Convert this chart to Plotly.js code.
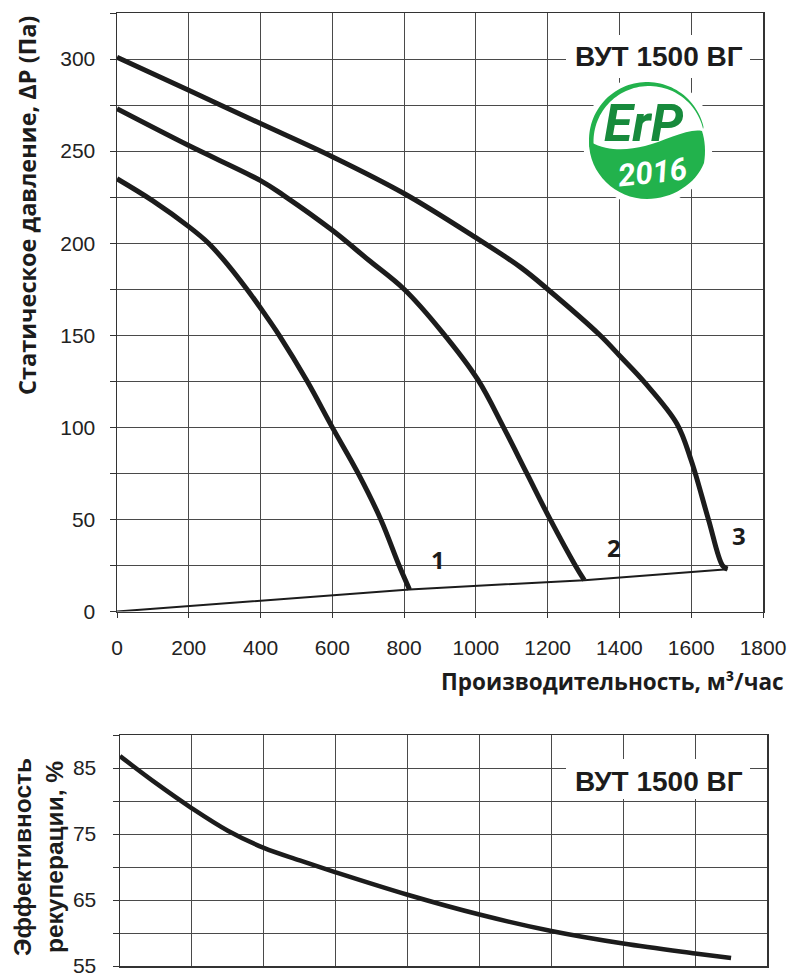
<!DOCTYPE html>
<html>
<head>
<meta charset="utf-8">
<script src="https://cdn.plot.ly/plotly-3.0.1.min.js"></script>
<style>html,body{margin:0;padding:0;background:#fff}</style>
</head>
<body>
<div id="chart" style="width:800px;height:980px"></div>
<script>
// ---------- data ----------
const curve1X = [0, 100, 200, 255, 310, 362, 410, 452, 530, 600, 672, 735, 786, 815];
const curve1Y = [235, 223, 209, 200, 188, 175, 162, 150, 125, 100, 75, 50, 25, 12];

const curve2X = [0, 200, 400, 464, 600, 700, 800, 905, 1005, 1077, 1142, 1207, 1277, 1302];
const curve2Y = [273, 253, 234, 226, 207, 191, 175, 152, 126, 100, 75, 50, 25, 17];

const curve3X = [0, 200, 400, 600, 800, 1000, 1124, 1200, 1346, 1400, 1472, 1560, 1600, 1648, 1687, 1701];
const curve3Y = [301, 283, 265, 247, 227, 203, 187, 175, 150, 139, 124, 102, 82, 50, 25, 23];

const systemX = [0, 815, 1302, 1701];
const systemY = [0, 12, 17, 23];

const effX = [0, 100, 200, 300, 400, 500, 600, 800, 1000, 1200, 1400, 1600, 1700];
const effY = [86.8, 82.7, 78.9, 75.5, 72.9, 71.0, 69.2, 65.8, 62.8, 60.3, 58.4, 56.9, 56.2];

const curveLabels = ['1', '2', '3'];
const modelName = 'ВУТ 1500 ВГ';
const logoTop = 'ErP';
const logoYear = '2016';
const xTitle = 'Производительность, м³/час';
const yTitle = 'Статическое давление, ΔP (Па)';
const yTitle2 = 'Эффективность<br>рекуперации, %';

// ---------- helpers (page pixels -> paper) ----------
const W = 800, H = 980;
const fx = p => p / W, fy = p => 1 - p / H;
function pxPath(s) {
  const t = s.trim().split(/\s+/); const out = []; let i = 0;
  while (i < t.length) {
    if (/^[A-Za-z]$/.test(t[i])) { out.push(t[i]); i++; }
    else { out.push(fx(+t[i]).toFixed(5) + ',' + fy(+t[i + 1]).toFixed(5)); i += 2; }
  }
  return out.join(' ');
}
function arc(cx, cy, r, a0, a1, n) {
  const pts = [];
  for (let i = 0; i <= n; i++) {
    const a = (a0 + (a1 - a0) * i / n) * Math.PI / 180;
    pts.push([cx + r * Math.cos(a), cy - r * Math.sin(a)]);
  }
  return pts;
}
function polyPath(pts) {
  return 'M' + pts.map(p => fx(p[0]).toFixed(5) + ',' + fy(p[1]).toFixed(5)).join('L') + 'Z';
}

const INK = '#1c1c1c';
const GRID = '#4a4a4a';
const GREEN = '#22b24c';
const DKGREEN = '#178a3c';
const numFont = 'Liberation Sans, Arial, sans-serif';
const titleFont = 'Open Sans, Noto Sans, sans-serif';
const narrow = 'Liberation Sans Narrow, Roboto, Liberation Sans, sans-serif';

const curveLine = {color: INK, width: 5, shape: 'spline', smoothing: 1};
const traces = [
  {x: curve1X, y: curve1Y, mode: 'lines', line: curveLine, xaxis: 'x', yaxis: 'y', hoverinfo: 'skip'},
  {x: curve2X, y: curve2Y, mode: 'lines', line: curveLine, xaxis: 'x', yaxis: 'y', hoverinfo: 'skip'},
  {x: curve3X, y: curve3Y, mode: 'lines', line: curveLine, xaxis: 'x', yaxis: 'y', hoverinfo: 'skip'},
  {x: systemX, y: systemY, mode: 'lines', line: {color: INK, width: 2}, xaxis: 'x', yaxis: 'y', hoverinfo: 'skip'},
  {x: effX, y: effY, mode: 'lines', line: {color: INK, width: 4.5, shape: 'spline', smoothing: 1}, xaxis: 'x2', yaxis: 'y2', hoverinfo: 'skip'}
];

const axBase = {
  showgrid: true, gridcolor: GRID, gridwidth: 1, zeroline: false,
  showline: true, mirror: true, linecolor: '#333', linewidth: 1.5,
  ticks: 'outside', tickcolor: '#333', tickwidth: 1, fixedrange: true, automargin: false,
  tickfont: {family: numFont, size: 21, color: '#222'}
};

// crescent & leaf of the logo
const crescent = arc(647, 140, 58, 187, 13, 60).concat(arc(649, 141.5, 55.5, 13, 187, 60));
const leaf = pxPath('M 590 142 C 610 152 628 150 645 146 C 665 141 688 128 702 131 C 705 140 706 152 704 163 C 696 184 672 199 647 199 C 615.5 199 589 173.5 589 142 Z');

const layout = {
  width: W, height: H, margin: {l: 0, r: 0, t: 0, b: 0},
  paper_bgcolor: '#fff', plot_bgcolor: '#fff', showlegend: false,
  xaxis: Object.assign({}, axBase, {
    domain: [fx(117), fx(763)], range: [0, 1800], tick0: 0, dtick: 200, ticklen: 5,
    anchor: 'y', ticklabelstandoff: 12
  }),
  yaxis: Object.assign({}, axBase, {
    domain: [fy(611.5), fy(13)], range: [0, 325], tick0: 0, dtick: 50, ticklen: 6,
    minor: {tick0: 0, dtick: 25, showgrid: true, gridcolor: GRID, gridwidth: 1, ticks: 'outside', ticklen: 6, tickcolor: '#333'},
    anchor: 'x', ticklabelstandoff: 10
  }),
  xaxis2: Object.assign({}, axBase, {
    domain: [fx(120), fx(767)], range: [0, 1800], tick0: 0, dtick: 200,
    showticklabels: false, ticks: '', anchor: 'y2'
  }),
  yaxis2: Object.assign({}, axBase, {
    domain: [fy(966), fy(735)], range: [55, 90], tick0: 55, dtick: 10, ticklen: 6,
    minor: {tick0: 55, dtick: 5, showgrid: true, gridcolor: GRID, gridwidth: 1, ticks: 'outside', ticklen: 6, tickcolor: '#333'},
    anchor: 'x2', ticklabelstandoff: 12
  }),
  shapes: [
    {type: 'rect', xref: 'paper', yref: 'paper', x0: fx(566), x1: fx(750), y0: fy(78), y1: fy(35), fillcolor: '#fff', line: {width: 0}, layer: 'above'},
    {type: 'circle', xref: 'paper', yref: 'paper', x0: fx(583), x1: fx(713), y0: fy(206), y1: fy(76), fillcolor: '#fff', line: {width: 0}, layer: 'above'},
    {type: 'path', xref: 'paper', yref: 'paper', path: polyPath(crescent), fillcolor: GREEN, line: {width: 0}, layer: 'above'},
    {type: 'path', xref: 'paper', yref: 'paper', path: leaf, fillcolor: GREEN, line: {width: 0}, layer: 'above'},
    {type: 'rect', xref: 'paper', yref: 'paper', x0: fx(566), x1: fx(750), y0: fy(799), y1: fy(759), fillcolor: '#fff', line: {width: 0}, layer: 'above'}
  ],
  annotations: [
    {text: modelName, xref: 'paper', yref: 'paper', x: fx(658.7), y: fy(56.7), xanchor: 'center', yanchor: 'middle', showarrow: false,
     font: {family: numFont, size: 28, color: INK, weight: 'bold'}},
    {text: modelName, xref: 'paper', yref: 'paper', x: fx(658.7), y: fy(781.7), xanchor: 'center', yanchor: 'middle', showarrow: false,
     font: {family: numFont, size: 28, color: INK, weight: 'bold'}},
    {text: logoTop, xref: 'paper', yref: 'paper', x: fx(644), y: fy(123), xanchor: 'center', yanchor: 'middle', showarrow: false,
     font: {family: narrow, size: 52, color: DKGREEN, weight: 'bold', style: 'italic'}},
    {text: logoYear, xref: 'paper', yref: 'paper', x: fx(652), y: fy(172), xanchor: 'center', yanchor: 'middle', showarrow: false, textangle: -6,
     font: {family: narrow, size: 31, color: '#fff', weight: 'bold', style: 'italic'}},
    {text: xTitle, xref: 'paper', yref: 'paper', x: fx(786), y: fy(681), xanchor: 'right', yanchor: 'middle', showarrow: false,
     font: {family: titleFont, size: 22.5, color: INK, weight: 'bold'}},
    {text: yTitle, xref: 'paper', yref: 'paper', x: fx(27), y: fy(206), xanchor: 'center', yanchor: 'middle', showarrow: false, textangle: -90,
     font: {family: titleFont, size: 23.5, color: INK, weight: 'bold'}},
    {text: yTitle2, xref: 'paper', yref: 'paper', x: fx(38), y: fy(857), xanchor: 'center', yanchor: 'middle', showarrow: false, textangle: -90, align: 'center',
     font: {family: numFont, size: 24.5, color: INK, weight: 'bold'}},
    {text: curveLabels[0], xref: 'x', yref: 'y', x: curve1X[curve1X.length - 1], y: curve1Y[curve1Y.length - 1], xshift: 29, yshift: 30, showarrow: false,
     font: {family: titleFont, size: 24, color: INK, weight: 'bold'}},
    {text: curveLabels[1], xref: 'x', yref: 'y', x: curve2X[curve2X.length - 1], y: curve2Y[curve2Y.length - 1], xshift: 30, yshift: 33, showarrow: false,
     font: {family: titleFont, size: 24, color: INK, weight: 'bold'}},
    {text: curveLabels[2], xref: 'x', yref: 'y', x: curve3X[curve3X.length - 1], y: curve3Y[curve3Y.length - 1], xshift: 12, yshift: 34, showarrow: false,
     font: {family: titleFont, size: 24, color: INK, weight: 'bold'}}
  ]
};

Plotly.newPlot('chart', traces, layout, {staticPlot: true, displayModeBar: false});
</script>
</body>
</html>
